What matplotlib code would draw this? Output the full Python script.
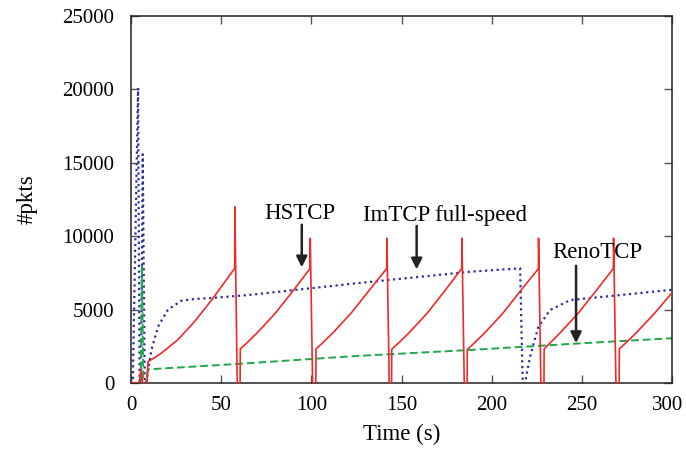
import matplotlib
matplotlib.use('Agg')
import matplotlib.pyplot as plt
import matplotlib.transforms as mtransforms

# HSTCP (red, solid)
hs_t = [0, 4.5, 5.5, 6.5, 8.9, 9.4, 13, 17, 26, 35, 45, 57.5, 57.6, 58.9, 60.5, 60.6,
        65, 70, 80, 90, 99.3, 99.4, 100.7, 102.5, 102.6,
        107, 112, 122, 132, 141.8, 141.9, 143.2, 144.5, 144.6,
        149, 154, 164, 174, 183.4, 183.5, 184.8, 186.4, 186.5,
        191, 196, 206, 216, 225.9, 226.0, 227.3, 229.0, 229.1,
        233, 238, 248, 258, 267.5, 267.6, 268.9, 270.7, 270.8,
        275, 280, 290, 300]
hs_v = [0, 0, 900, 0, 0, 1450, 1720, 2050, 2950, 4150, 5700, 7810, 12000, 0, 0, 2320,
        2820, 3420, 4750, 6300, 7800, 9860, 0, 0, 2320,
        2820, 3420, 4750, 6300, 7800, 9860, 0, 0, 2300,
        2800, 3400, 4720, 6280, 7800, 9860, 0, 0, 2280,
        2800, 3400, 4720, 6280, 7780, 9860, 0, 0, 2320,
        2800, 3420, 4750, 6300, 7800, 9860, 0, 0, 2320,
        2800, 3400, 4700, 6150]

# ImTCP full-speed (blue, dotted)
im_t = [0, 1.0, 3.9, 4.8, 5.6, 6.5, 7.6, 8.5, 11.3, 15, 20.5, 27.9, 35, 44.5, 64.9,
        124.8, 188, 215.4, 215.8, 217.2, 218.5, 221.3, 225.9, 232.4, 243.5,
        271.2, 300]
im_v = [0, 0, 20100, 0, 0, 15580, 0, 100, 2250, 3840, 5000, 5600, 5720, 5790, 5990,
        6790, 7580, 7810, 7810, 0, 0, 1790, 3840, 4970, 5650,
        5990, 6350]

# RenoTCP (green, dashed)
re_t = [0, 5.4, 6.1, 6.8, 8.5, 9.4, 58, 125, 188, 249, 300]
re_v = [0, 0, 8040, 0, 0, 930, 1290, 1840, 2250, 2700, 3050]

x_ticks = [0, 50, 100, 150, 200, 250, 300]
y_ticks = [0, 5000, 10000, 15000, 20000, 25000]

plt.rcParams['font.family'] = ['Liberation Serif', 'DejaVu Serif']

fig = plt.figure(figsize=(6.86, 4.54), dpi=100)
ax = fig.add_axes([131 / 686, 71 / 454, 541 / 686, 367 / 454])

ax.plot(hs_t, hs_v, color='#ee2a2a', lw=1.2, zorder=3)
ax.plot(im_t, im_v, color='#2c2f9c', lw=1.6, linestyle=(0, (1, 1.6)), zorder=2)
ax.plot(re_t, re_v, color='#1ea84a', lw=1.4, linestyle=(0, (4, 2)), zorder=2)

ax.set_xlim(0, 300)
ax.set_ylim(0, 25000)
ax.set_xticks(x_ticks)
ax.set_yticks(y_ticks)
ax.tick_params(direction='in', length=6, width=1, top=True, right=True,
               labelsize=15, color='#555555')
ax.tick_params(axis='x', pad=9)
ax.tick_params(axis='y', pad=12)
for s in ax.spines.values():
    s.set_linewidth(1.1)
    s.set_color('#222222')

# nudge the last x tick label so it stays inside the figure
last = ax.get_xticklabels()[-1]
last.set_transform(last.get_transform() +
                   mtransforms.ScaledTranslation(-0.04, 0, fig.dpi_scale_trans))

ax.set_xlabel('Time (s)', fontsize=16.5)
ax.set_ylabel('#pkts', fontsize=16.5)
ax.xaxis.set_label_coords(0.5, -0.112)
ax.yaxis.set_label_coords(-0.172, 0.5)

arrow = dict(arrowstyle='-|>', color='#222222', lw=1.8, mutation_scale=16,
             shrinkA=0, shrinkB=0)
ax.text(93.7, 11580, 'HSTCP', fontsize=16.5, ha='center', va='center')
ax.annotate('', xy=(94.7, 7880), xytext=(94.7, 10780), arrowprops=arrow)
ax.text(174.2, 11440, 'ImTCP full-speed', fontsize=16.5, ha='center', va='center')
ax.annotate('', xy=(158.4, 7740), xytext=(158.4, 10700), arrowprops=arrow)
ax.text(258.5, 8860, 'RenoTCP', fontsize=16.5, ha='center', va='center')
ax.annotate('', xy=(246.8, 2720), xytext=(246.8, 7980), arrowprops=arrow)

fig.savefig('out.png', dpi=100)
